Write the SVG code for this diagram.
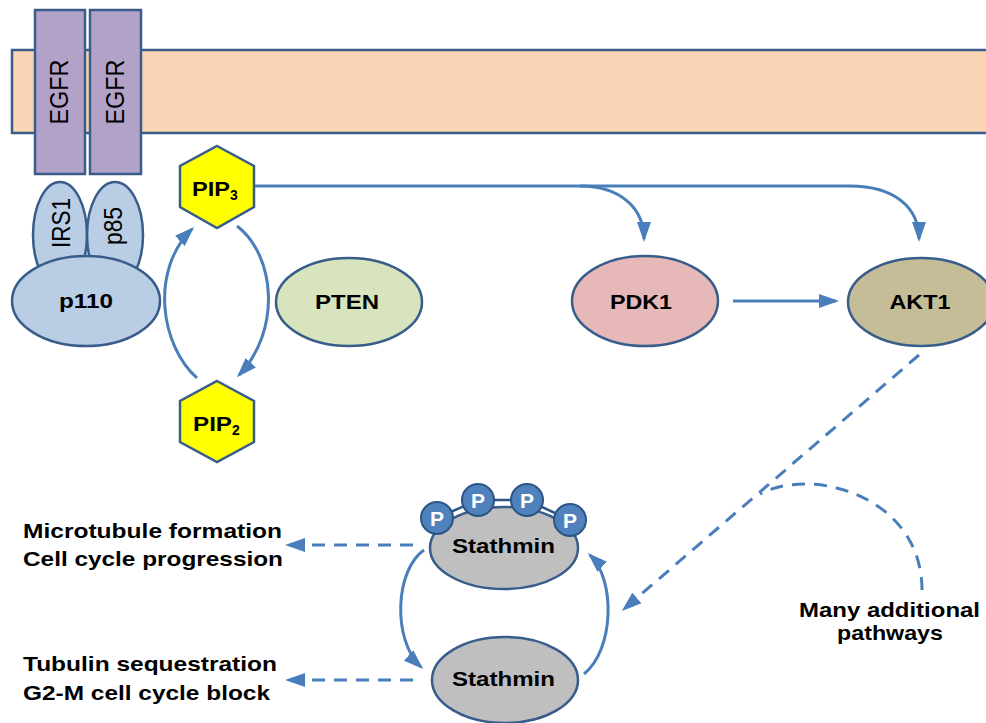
<svg xmlns="http://www.w3.org/2000/svg" width="986" height="723" viewBox="0 0 986 723">
<defs>
<marker id="ah" viewBox="0 0 20 14" markerWidth="20" markerHeight="14" refX="17" refY="7" orient="auto" markerUnits="userSpaceOnUse">
<path d="M0,0 L20,7 L0,14 z" fill="#4a7ebb"/>
</marker>
<style>
.node{stroke:#385d8a;stroke-width:2.5}
.lbl{font-family:"Liberation Sans",Arial,sans-serif;font-weight:bold;font-size:21px;fill:#000}
.rot{font-family:"Liberation Sans",Arial,sans-serif;font-size:25px;fill:#000}
.conn{fill:none;stroke:#4a7ebb;stroke-width:3}
.dash{stroke-dasharray:13 9}
.pc{fill:#4f81bd;stroke:#2c5585;stroke-width:2}
.pt{font-family:"Liberation Sans",Arial,sans-serif;font-weight:bold;font-size:21px;fill:#fff}
</style>
</defs>
<rect width="986" height="723" fill="#fff"/>
<g id="membrane"><rect x="12" y="50" width="990" height="83" fill="#fbd5b5" class="node"/></g>
<g id="egfr1"><rect x="35" y="10" width="50" height="164" fill="#b3a2c7" class="node"/>
<text class="rot" transform="translate(68,92) rotate(-90)" text-anchor="middle" textLength="65" lengthAdjust="spacingAndGlyphs">EGFR</text></g>
<g id="egfr2"><rect x="90" y="10" width="51" height="164" fill="#b3a2c7" class="node"/>
<text class="rot" transform="translate(124,92) rotate(-90)" text-anchor="middle" textLength="65" lengthAdjust="spacingAndGlyphs">EGFR</text></g>
<g id="irs1"><ellipse cx="60" cy="235" rx="27" ry="53" fill="#b9cde5" class="node"/>
<text class="rot" transform="translate(70,223) rotate(-90)" text-anchor="middle" textLength="50" lengthAdjust="spacingAndGlyphs">IRS1</text></g>
<g id="p85"><ellipse cx="115" cy="235" rx="28" ry="53" fill="#b9cde5" class="node"/>
<text class="rot" font-size="24" transform="translate(122,226) rotate(-90)" text-anchor="middle" textLength="38" lengthAdjust="spacingAndGlyphs">p85</text></g>
<g id="p110"><ellipse cx="86" cy="301" rx="74" ry="45" fill="#b9cde5" class="node"/>
<text class="lbl" x="86" y="308" text-anchor="middle" font-size="23" textLength="54" lengthAdjust="spacingAndGlyphs">p110</text></g>
<g id="pip3"><polygon points="217,146 254,166 254,207 217,228 180,207 180,166" fill="#ffff00" class="node"/>
<text class="lbl" x="192" y="196" font-size="23"><tspan textLength="38" lengthAdjust="spacingAndGlyphs">PIP</tspan><tspan font-size="14" dy="4">3</tspan></text></g>
<g id="pip2"><polygon points="217,381 254,401 254,442 217,462 180,442 180,401" fill="#ffff00" class="node"/>
<text class="lbl" x="193" y="431" font-size="23"><tspan textLength="39" lengthAdjust="spacingAndGlyphs">PIP</tspan><tspan font-size="14" dy="4">2</tspan></text></g>
<g id="pten"><ellipse cx="349" cy="302" rx="73" ry="44" fill="#d7e4bd" class="node"/>
<text class="lbl" x="347" y="309" text-anchor="middle" font-size="24" textLength="64" lengthAdjust="spacingAndGlyphs">PTEN</text></g>
<g id="pdk1"><ellipse cx="645" cy="301" rx="73" ry="45" fill="#e6b9b8" class="node"/>
<text class="lbl" x="641" y="309" text-anchor="middle" font-size="24" textLength="62" lengthAdjust="spacingAndGlyphs">PDK1</text></g>
<g id="akt1"><ellipse cx="921" cy="302" rx="73" ry="44" fill="#c4bd97" class="node"/>
<text class="lbl" x="920" y="309" text-anchor="middle" font-size="24" textLength="61" lengthAdjust="spacingAndGlyphs">AKT1</text></g>
<g id="stathmin-p"><ellipse cx="504" cy="548" rx="74" ry="41" fill="#bfbfbf" class="node"/>
<polyline points="437,518 478,500 527,500 570,520" fill="none" stroke="#2c5585" stroke-width="2.5"/>
<circle cx="437" cy="518" r="16" class="pc"/><circle cx="478" cy="500" r="16" class="pc"/><circle cx="527" cy="500" r="16" class="pc"/><circle cx="570" cy="520" r="16" class="pc"/>
<text class="pt" x="437" y="526" text-anchor="middle">P</text><text class="pt" x="478" y="508" text-anchor="middle">P</text><text class="pt" x="527" y="508" text-anchor="middle">P</text><text class="pt" x="570" y="528" text-anchor="middle">P</text>
<text class="lbl" x="503.5" y="553" text-anchor="middle" font-size="22" textLength="103" lengthAdjust="spacingAndGlyphs">Stathmin</text></g>
<g id="stathmin"><ellipse cx="505" cy="680" rx="73" ry="43" fill="#bfbfbf" class="node"/>
<text class="lbl" x="503.5" y="686" text-anchor="middle" font-size="22" textLength="103" lengthAdjust="spacingAndGlyphs">Stathmin</text></g>
<g id="out1"><text class="lbl" x="23" y="538" textLength="259" lengthAdjust="spacingAndGlyphs">Microtubule formation</text>
<text class="lbl" x="23" y="566" textLength="260" lengthAdjust="spacingAndGlyphs">Cell cycle progression</text></g>
<g id="out2"><text class="lbl" x="23" y="671" textLength="254" lengthAdjust="spacingAndGlyphs">Tubulin sequestration</text>
<text class="lbl" x="23" y="700" textLength="247" lengthAdjust="spacingAndGlyphs">G2-M cell cycle block</text></g>
<g id="additional"><text class="lbl" x="799" y="617" textLength="181" lengthAdjust="spacingAndGlyphs">Many additional</text>
<text class="lbl" x="837" y="640" textLength="106" lengthAdjust="spacingAndGlyphs">pathways</text></g>
<g id="connectors">
<path class="conn" d="M255,186 H850 C895,186 919,208 919,239" marker-end="url(#ah)"/>
<path class="conn" d="M580,186 C620,186 644,208 644,239" marker-end="url(#ah)"/>
<path class="conn" d="M733,301 H836" marker-end="url(#ah)"/>
<path class="conn" d="M197,378 C160,345 150,270 192,229" marker-end="url(#ah)"/>
<path class="conn" d="M237,226 C275,255 282,330 239,375" marker-end="url(#ah)"/>
<path class="conn" d="M424,550 C395,570 392,640 421,667" marker-end="url(#ah)"/>
<path class="conn" d="M584,674 C614,650 616,580 590,555" marker-end="url(#ah)"/>
<path class="conn dash" d="M919,355 L624,609" marker-end="url(#ah)"/>
<path class="conn dash" d="M922,590 C922,520 860,484 805,484 C785,484 772,488 760,494"/>
<path class="conn dash" d="M413,545 H288" marker-end="url(#ah)"/>
<path class="conn dash" d="M413,680 H288" marker-end="url(#ah)"/>
</g>
</svg>
